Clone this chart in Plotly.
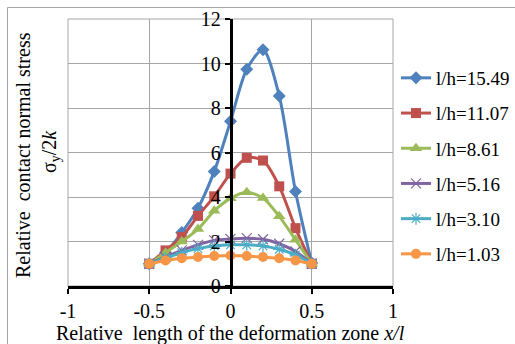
import plotly.graph_objects as go

x_vals = [-0.5, -0.4, -0.3, -0.2, -0.1, 0.0, 0.1, 0.2, 0.3, 0.4, 0.5]

series_names = ["l/h=15.49", "l/h=11.07", "l/h=8.61", "l/h=5.16", "l/h=3.10", "l/h=1.03"]

s_15_49 = [1.0, 1.5, 2.4, 3.5, 5.15, 7.4, 9.74, 10.62, 8.54, 4.25, 1.03]
s_11_07 = [1.0, 1.6, 2.2, 3.15, 4.03, 5.05, 5.76, 5.64, 4.48, 2.6, 1.0]
s_8_61 = [1.0, 1.5, 2.0, 2.56, 3.38, 3.94, 4.21, 3.96, 3.13, 2.08, 1.0]
s_5_16 = [1.0, 1.3, 1.6, 1.85, 2.05, 2.12, 2.15, 2.1, 1.9, 1.55, 1.0]
s_3_10 = [1.0, 1.25, 1.5, 1.68, 1.8, 1.85, 1.85, 1.8, 1.65, 1.4, 1.0]
s_1_03 = [1.0, 1.15, 1.25, 1.3, 1.35, 1.37, 1.35, 1.3, 1.25, 1.15, 1.0]

x_ticks = [-1, -0.5, 0, 0.5, 1]
x_tick_labels = ["-1", "-0.5", "0", "0.5", "1"]
y_ticks = [0, 2, 4, 6, 8, 10, 12]

all_series = [s_15_49, s_11_07, s_8_61, s_5_16, s_3_10, s_1_03]
colors = ["#4F81BD", "#C0504D", "#9BBB59", "#8064A2", "#4BACC6", "#F79646"]
symbols = ["diamond", "square", "triangle-up", "x-thin-open", "asterisk-open", "circle"]
sizes = [10, 10, 11, 10, 10, 10]

FONT = "'Liberation Serif', 'Times New Roman', 'DejaVu Serif', serif"

fig = go.Figure()
for i, (name, ys) in enumerate(zip(series_names, all_series)):
    marker = dict(symbol=symbols[i], size=sizes[i], color=colors[i])
    if symbols[i] in ("x-thin-open", "asterisk-open"):
        marker["line"] = dict(color=colors[i], width=1.2)
    fig.add_trace(go.Scatter(
        x=x_vals, y=ys, name=name, mode="lines+markers",
        line=dict(color=colors[i], width=3, shape="spline", smoothing=0.8),
        marker=marker, legendgroup=f"g{i}", hoverinfo="skip",
    ))

W, H = 515, 344
L, R, T, B = 68, 122, 19, 58
pw = W - L - R
ph = H - T - B

def px_to_paper_x(px):
    return (px - L) / pw

def px_to_paper_y(py):
    return (H - B - py) / ph

fig.update_layout(
    width=W, height=H,
    margin=dict(l=L, r=R, t=T, b=B, pad=0, autoexpand=False),
    paper_bgcolor="white", plot_bgcolor="white",
    font=dict(family=FONT, size=20, color="black"),
    showlegend=True,
    legend=dict(
        x=px_to_paper_x(396), y=px_to_paper_y(59), xanchor="left", yanchor="top",
        font=dict(family=FONT, size=19, color="black"),
        itemwidth=30, tracegroupgap=7.5, bgcolor="rgba(0,0,0,0)",
    ),
    xaxis=dict(
        range=[-1, 1], tickvals=x_ticks, ticktext=x_tick_labels,
        showgrid=True, gridcolor="#A6A6A6", gridwidth=1,
        zeroline=False, showline=True, linecolor="black", linewidth=2.5,
        ticks="outside", ticklen=5, tickwidth=2, tickcolor="black",
        tickfont=dict(family=FONT, size=20),
        fixedrange=True,
    ),
    yaxis=dict(
        range=[0, 12], tickvals=y_ticks,
        showgrid=True, gridcolor="#A6A6A6", gridwidth=1,
        zeroline=False, showline=True, linecolor="black", linewidth=2.5,
        ticks="outside", ticklen=5, tickwidth=2, tickcolor="black",
        anchor="free", position=0.5,
        tickfont=dict(family=FONT, size=20),
        fixedrange=True,
    ),
    shapes=[
        dict(type="rect", xref="paper", yref="paper", x0=0, x1=1, y0=0, y1=1,
             line=dict(color="#A6A6A6", width=1), layer="below"),
        dict(type="rect", xref="paper", yref="paper",
             x0=px_to_paper_x(7.5), x1=px_to_paper_x(600),
             y0=px_to_paper_y(500), y1=px_to_paper_y(7.5),
             line=dict(color="#A6A6A6", width=1), layer="below"),
    ],
    annotations=[
        dict(text="Relative  contact normal stress", xref="paper", yref="paper",
             x=px_to_paper_x(23), y=px_to_paper_y(155), textangle=-90,
             showarrow=False, xanchor="center", yanchor="middle",
             font=dict(family=FONT, size=20)),
        dict(text="σ<sub>y</sub>/2<i>k</i>", xref="paper", yref="paper",
             x=px_to_paper_x(50), y=px_to_paper_y(152), textangle=-90,
             showarrow=False, xanchor="center", yanchor="middle",
             font=dict(family=FONT, size=20)),
        dict(text="Relative  length of the deformation zone <i>x/l</i>", xref="paper", yref="paper",
             x=0.5, y=px_to_paper_y(333), showarrow=False,
             xanchor="center", yanchor="middle",
             font=dict(family=FONT, size=20)),
    ],
)

fig.write_html("out.html")
